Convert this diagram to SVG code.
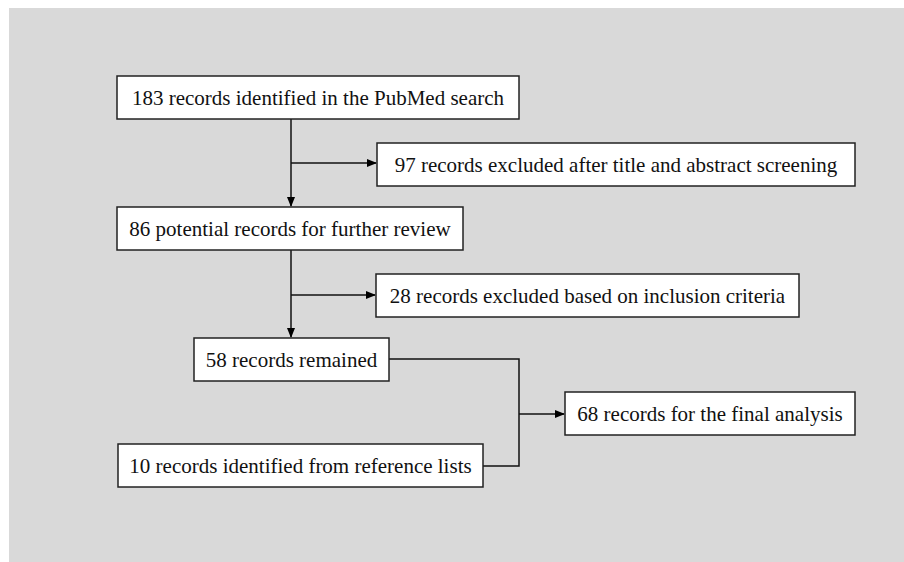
<svg xmlns="http://www.w3.org/2000/svg" width="904" height="562" viewBox="0 0 904 562">
<defs>
<marker id="ah" markerWidth="10" markerHeight="8" refX="9" refY="4" orient="auto" markerUnits="userSpaceOnUse">
<path d="M0,0 L10,4 L0,8 Z" fill="#000"/>
</marker>
<style>
.box{fill:#fff;stroke:#222;stroke-width:1.5}
.t{font-family:"Liberation Serif","Times New Roman",serif;font-size:21px;fill:#111;text-anchor:middle}
.c{fill:none;stroke:#111;stroke-width:1.5}
</style>
</defs>
<rect x="0" y="0" width="904" height="562" fill="#fff"/>
<rect x="9" y="8" width="895" height="554" fill="#d9d9d9"/>
<g id="connectors">
<line class="c" x1="291" y1="119" x2="291" y2="206" marker-end="url(#ah)"/>
<line class="c" x1="291" y1="163" x2="376" y2="163" marker-end="url(#ah)"/>
<line class="c" x1="291" y1="250" x2="291" y2="337" marker-end="url(#ah)"/>
<line class="c" x1="291" y1="295" x2="375" y2="295" marker-end="url(#ah)"/>
<polyline class="c" points="389,359 519,359 519,466 483,466"/>
<line class="c" x1="519" y1="414" x2="564" y2="414" marker-end="url(#ah)"/>
</g>
<g id="n1"><rect class="box" x="117" y="76" width="402" height="43"/><text class="t" x="318" y="105">183 records identified in the PubMed search</text></g>
<g id="n2"><rect class="box" x="377" y="143" width="478" height="43"/><text class="t" x="616" y="172">97 records excluded after title and abstract screening</text></g>
<g id="n3"><rect class="box" x="117" y="207" width="346" height="43"/><text class="t" x="290" y="236">86 potential records for further review</text></g>
<g id="n4"><rect class="box" x="376" y="274" width="423" height="43"/><text class="t" x="587.5" y="303">28 records excluded based on inclusion criteria</text></g>
<g id="n5"><rect class="box" x="194" y="338" width="195" height="43"/><text class="t" x="291.5" y="367">58 records remained</text></g>
<g id="n6"><rect class="box" x="118" y="444" width="365" height="43"/><text class="t" x="300.5" y="473">10 records identified from reference lists</text></g>
<g id="n7"><rect class="box" x="565" y="392" width="290" height="43"/><text class="t" x="710" y="421">68 records for the final analysis</text></g>
</svg>
